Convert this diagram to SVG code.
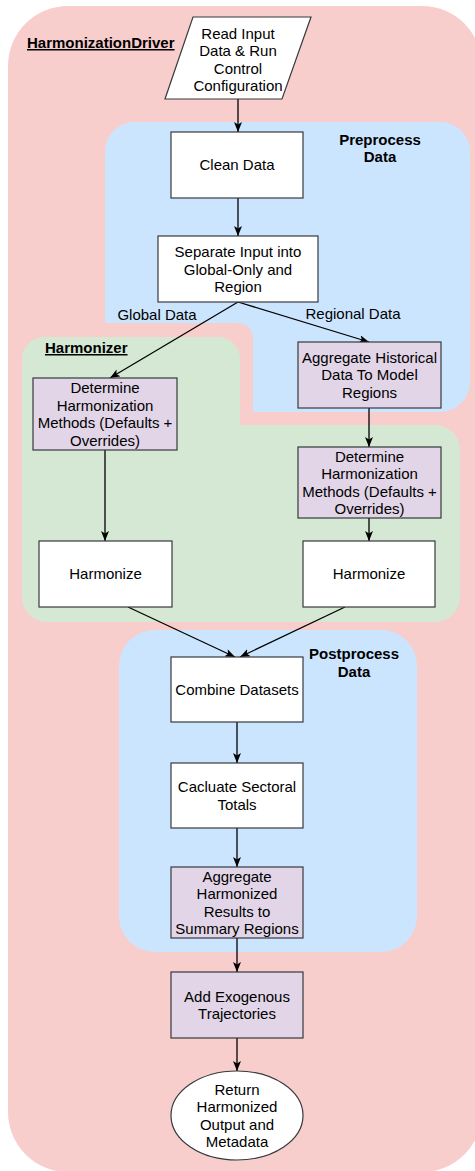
<svg xmlns="http://www.w3.org/2000/svg" width="475" height="1171" viewBox="0 0 475 1171">
<style>
text{font-family:"Liberation Sans",Arial,Helvetica,sans-serif;font-size:15px;fill:#000;text-anchor:middle}
.b{font-weight:bold}
.u{text-decoration:underline}
.l{text-anchor:start}
.box{fill:#fff;stroke:#36393d;stroke-width:1.2}
.pur{fill:#e1d5e7;stroke:#36393d;stroke-width:1.2}
.edge{fill:none;stroke:#000;stroke-width:1.3}
</style>
<defs>
<marker id="ah" viewBox="0 0 10 8" refX="10" refY="4" markerWidth="10" markerHeight="8" markerUnits="userSpaceOnUse" orient="auto">
<path d="M0,0 L10,4 L0,8 L2.5,4 Z" fill="#000"/>
</marker>
</defs>
<g id="containers">
<rect id="driver" x="8" y="6" width="474" height="1166" rx="60" fill="#f8cecc"/>
<rect id="preprocess" x="105" y="122" width="365" height="290" rx="30" fill="#cce5ff"/>
<path d="M90,323 L238,323 A15,15 0 0 1 253,338 L253,430 L90,430 Z" fill="#f8cecc"/>
<path id="harmonizer" d="M22,359 A22,22 0 0 1 44,337 L218,337 A22,22 0 0 1 240,359 L240,425 L435,425 A25,25 0 0 1 460,450 L460,597 A25,25 0 0 1 435,622 L47,622 A25,25 0 0 1 22,597 Z" fill="#d5e8d4"/>
<rect id="postprocess" x="119" y="630" width="298" height="322" rx="36" fill="#cce5ff"/>
<text class="b u l" x="27" y="48">HarmonizationDriver</text>
<text class="b" x="380" y="144.5">Preprocess</text>
<text class="b" x="380" y="162">Data</text>
<text class="b u l" x="45" y="353">Harmonizer</text>
<text class="b" x="354" y="659">Postprocess</text>
<text class="b" x="354" y="676.5">Data</text>
</g>
<g id="connectors">
<line class="edge" x1="238" y1="99" x2="238" y2="132" marker-end="url(#ah)"/>
<line class="edge" x1="238" y1="198" x2="238" y2="236" marker-end="url(#ah)"/>
<line class="edge" x1="238" y1="302" x2="110" y2="378" marker-end="url(#ah)"/>
<line class="edge" x1="238" y1="302" x2="369" y2="342" marker-end="url(#ah)"/>
<line class="edge" x1="369" y1="408" x2="369" y2="447" marker-end="url(#ah)"/>
<line class="edge" x1="105" y1="450" x2="105" y2="541" marker-end="url(#ah)"/>
<line class="edge" x1="369" y1="518" x2="369" y2="541" marker-end="url(#ah)"/>
<line class="edge" x1="128" y1="607" x2="235" y2="657" marker-end="url(#ah)"/>
<line class="edge" x1="345" y1="607" x2="240" y2="657" marker-end="url(#ah)"/>
<line class="edge" x1="237" y1="722" x2="237" y2="763" marker-end="url(#ah)"/>
<line class="edge" x1="237" y1="828" x2="237" y2="867" marker-end="url(#ah)"/>
<line class="edge" x1="237" y1="938" x2="237" y2="972" marker-end="url(#ah)"/>
<line class="edge" x1="237" y1="1038" x2="237" y2="1071" marker-end="url(#ah)"/>
<text x="157" y="319.5">Global Data</text>
<text x="353" y="318.5">Regional Data</text>
</g>
<g id="read-input">
<polygon class="box" points="193,17 311,17 282,99 165,99"/>
<text x="238" y="38.5">Read Input</text>
<text x="238" y="56">Data &amp; Run</text>
<text x="238" y="73.5">Control</text>
<text x="238" y="91">Configuration</text>
</g>
<g id="clean-data">
<rect class="box" x="171" y="132" width="132" height="66"/>
<text x="237" y="170">Clean Data</text>
</g>
<g id="separate-input">
<rect class="box" x="158" y="236" width="160" height="66"/>
<text x="238" y="257">Separate Input into</text>
<text x="238" y="274.5">Global-Only and</text>
<text x="238" y="292">Region</text>
</g>
<g id="aggregate-historical">
<rect class="pur" x="298" y="342" width="143" height="66"/>
<text x="369.5" y="362.5">Aggregate Historical</text>
<text x="369.5" y="380">Data To Model</text>
<text x="369.5" y="397.5">Regions</text>
</g>
<g id="determine-global">
<rect class="pur" x="33" y="378" width="144" height="72"/>
<text x="105" y="393">Determine</text>
<text x="105" y="410.5">Harmonization</text>
<text x="105" y="428">Methods (Defaults +</text>
<text x="105" y="445.5">Overrides)</text>
</g>
<g id="determine-regional">
<rect class="pur" x="298" y="447" width="143" height="71"/>
<text x="369.5" y="461.5">Determine</text>
<text x="369.5" y="479">Harmonization</text>
<text x="369.5" y="496.5">Methods (Defaults +</text>
<text x="369.5" y="514">Overrides)</text>
</g>
<g id="harmonize-global">
<rect class="box" x="39" y="541" width="133" height="66"/>
<text x="105.5" y="579">Harmonize</text>
</g>
<g id="harmonize-regional">
<rect class="box" x="303" y="541" width="132" height="66"/>
<text x="369" y="579">Harmonize</text>
</g>
<g id="combine">
<rect class="box" x="171" y="657" width="132" height="65"/>
<text x="237" y="695">Combine Datasets</text>
</g>
<g id="sectoral">
<rect class="box" x="171" y="763" width="132" height="65"/>
<text x="237" y="792">Cacluate Sectoral</text>
<text x="237" y="809.5">Totals</text>
</g>
<g id="aggregate-summary">
<rect class="pur" x="171" y="867" width="132" height="71"/>
<text x="237" y="881.5">Aggregate</text>
<text x="237" y="899">Harmonized</text>
<text x="237" y="916.5">Results to</text>
<text x="237" y="934">Summary Regions</text>
</g>
<g id="exogenous">
<rect class="pur" x="171" y="972" width="132" height="66"/>
<text x="237" y="1001.5">Add Exogenous</text>
<text x="237" y="1019">Trajectories</text>
</g>
<g id="return">
<ellipse class="box" cx="237" cy="1115.5" rx="66" ry="44.5"/>
<text x="237" y="1094.5">Return</text>
<text x="237" y="1112">Harmonized</text>
<text x="237" y="1129.5">Output and</text>
<text x="237" y="1147">Metadata</text>
</g>
</svg>
